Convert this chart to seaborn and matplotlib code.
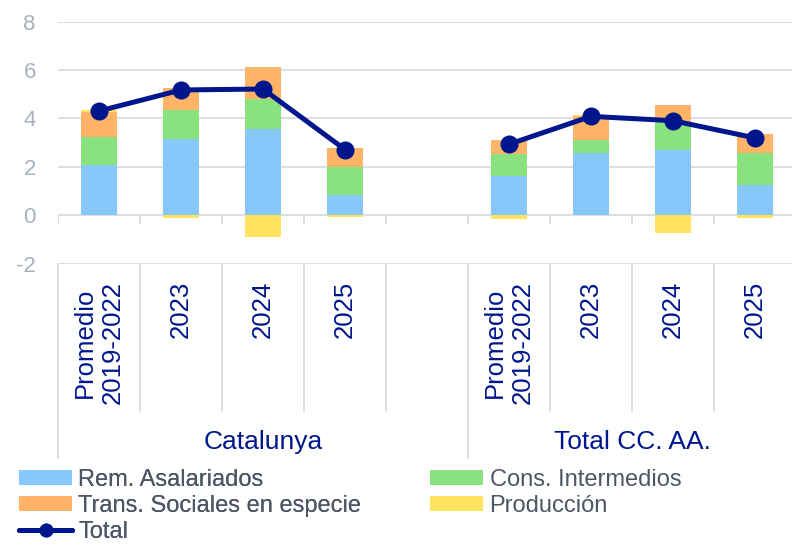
import numpy as np
import pandas as pd
import matplotlib
matplotlib.use("Agg")
import matplotlib.pyplot as plt
import seaborn as sns
from matplotlib.patches import Patch
from matplotlib.lines import Line2D

# ---------------- data ----------------
groups = ["Catalunya", "Total CC. AA."]
periods = ["Promedio\n2019-2022", "2023", "2024", "2025"]

rem_cat = [2.05, 3.14, 3.57, 0.81]
cons_cat = [1.17, 1.19, 1.21, 1.17]
trans_cat = [1.02, 0.93, 1.32, 0.79]
prod_cat = [0.10, -0.10, -0.92, -0.08]
total_cat = [4.30, 5.17, 5.21, 2.71]

rem_ccaa = [1.61, 2.56, 2.71, 1.24]
cons_ccaa = [0.90, 0.53, 1.14, 1.32]
trans_ccaa = [0.58, 1.01, 0.72, 0.80]
prod_ccaa = [-0.18, 0.05, -0.72, -0.12]
total_ccaa = [2.93, 4.08, 3.90, 3.19]

series_names = ["Rem. Asalariados", "Cons. Intermedios",
                "Trans. Sociales en especie", "Producción"]
colors = ["#86C7FC", "#89E27E", "#FFB468", "#FFE35F"]
navy = "#00168C"
grid_c = "#D8DCE2"

# ---------------- build table ----------------
rows = []
for gi, (g, comps, tot) in enumerate([
        ("Catalunya", [rem_cat, cons_cat, trans_cat, prod_cat], total_cat),
        ("Total CC. AA.", [rem_ccaa, cons_ccaa, trans_ccaa, prod_ccaa], total_ccaa)]):
    for pi, p in enumerate(periods):
        rec = {"group": g, "period": p, "x": gi * 5 + pi, "total": tot[pi]}
        for s, vals in zip(series_names, comps):
            rec[s] = vals[pi]
        rows.append(rec)
df = pd.DataFrame(rows)

# ---------------- figure ----------------
sns.set_theme(style="white")
plt.rcParams['font.family'] = ['Liberation Sans', 'DejaVu Sans']

W, H = 792, 546
fig = plt.figure(figsize=(W / 100, H / 100), dpi=100)
ax_left, ax_top, ax_bot = 58, 21.5, 263.5
ax = fig.add_axes([ax_left / W, (H - ax_bot) / H, 1 - ax_left / W, (ax_bot - ax_top) / H])

# stacked bars (positive stacked upward, negative downward)
pos_bottom = np.zeros(len(df))
neg_bottom = np.zeros(len(df))
bar_w = 0.43
for s, c in zip(series_names, colors):
    v = df[s].to_numpy()
    bottom = np.where(v >= 0, pos_bottom, neg_bottom)
    ax.bar(df["x"], v, bottom=bottom, width=bar_w, color=c, linewidth=0, zorder=2)
    pos_bottom = pos_bottom + np.where(v >= 0, v, 0)
    neg_bottom = neg_bottom + np.where(v < 0, v, 0)

# total lines per group
for g in groups:
    sub = df[df["group"] == g]
    sns.lineplot(data=sub, x="x", y="total", ax=ax, color=navy, linewidth=3.6,
                 marker="o", markersize=13, markeredgewidth=0, zorder=4,
                 legend=False)

# axes styling
ax.set_xlim(-0.5, 8.451)
ax.set_ylim(-2, 8)
ax.set_yticks(np.arange(-2, 9, 2))
ax.set_yticklabels([str(t) for t in range(-2, 9, 2)])
ax.tick_params(axis="y", length=0, pad=16, labelsize=16, labelcolor="#A7B1BC")
ax.grid(axis="y", color=grid_c, linewidth=1.3)
ax.grid(axis="x", visible=False)
ax.set_axisbelow(True)
for sp in ax.spines.values():
    sp.set_visible(False)
ax.set_xlabel("")
ax.set_ylabel("")

ax.set_xticks(df["x"])
ax.set_xticklabels(df["period"], rotation=90, fontsize=18.5, color=navy,
                   multialignment="center")
ax.tick_params(axis="x", length=0, pad=12.5)

# category boundary ticks and separators
bounds = np.arange(-0.5, 9.0, 1.0)
ax.vlines(bounds, -0.37, 0, colors=grid_c, linewidth=1.3, zorder=1)
trans = ax.get_xaxis_transform()
ax_h = ax_bot - ax_top
for b in bounds:
    depth = -(458 - ax_bot) / ax_h if b in (-0.5, 4.5) else -(411 - ax_bot) / ax_h
    ax.plot([b, b], [0, depth], transform=trans, clip_on=False,
            color=grid_c, linewidth=1.3)

# group labels
lab_y = -(442 - ax_bot) / ax_h
ax.text(2.0, lab_y, groups[0], transform=trans, ha="center", va="center",
        fontsize=19, color=navy)
ax.text(6.5, lab_y, groups[1], transform=trans, ha="center", va="center",
        fontsize=19, color=navy)

# legends
fs = 17
patch_kw = dict(linewidth=0)
h_rem = Patch(facecolor=colors[0], **patch_kw)
h_cons = Patch(facecolor=colors[1], **patch_kw)
h_trans = Patch(facecolor=colors[2], **patch_kw)
h_prod = Patch(facecolor=colors[3], **patch_kw)
h_tot = Line2D([], [], color=navy, linewidth=3.6, marker="o", markersize=10,
               markeredgewidth=0)
leg_kw = dict(loc="upper left", frameon=False, fontsize=fs, handlelength=2.25,
              handleheight=0.58, handletextpad=0.27, labelspacing=0.17,
              borderpad=0, borderaxespad=0, labelcolor="#4E5666")
leg_top = (H - 469) / H
leg1 = fig.legend([h_rem, h_trans, h_tot],
                  [series_names[0], series_names[2], "Total"],
                  bbox_to_anchor=(19 / W, leg_top), **leg_kw)
fig.add_artist(leg1)
fig.legend([h_cons, h_prod], [series_names[1], series_names[3]],
           bbox_to_anchor=(430 / W, leg_top), **leg_kw)

fig.savefig("out.png", dpi=100)
